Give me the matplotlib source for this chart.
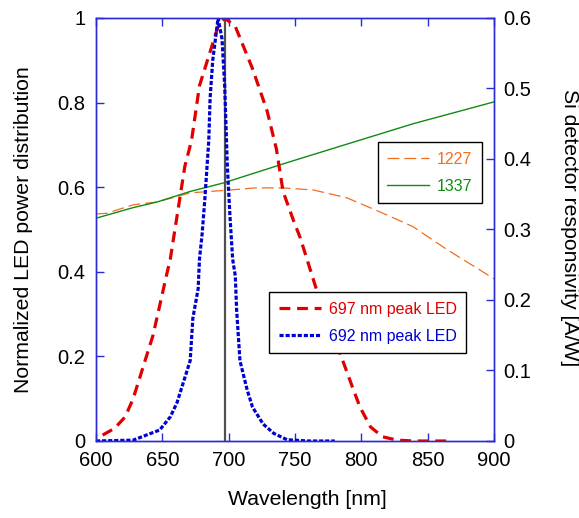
import matplotlib
matplotlib.use("Agg")
import matplotlib.pyplot as plt

plt.rcParams['font.family'] = ['Liberation Sans', 'DejaVu Sans']

# 697 nm peak LED spectrum (normalized)
red_wl = [605, 614, 622, 628, 633, 638, 643, 648, 653, 656, 663, 667, 672, 678,
          686, 692, 697, 705, 718, 729, 736, 741, 749, 754, 759, 766, 776, 786,
          793, 799, 807, 816, 827, 840, 864]
red_val = [0.014, 0.03, 0.057, 0.10, 0.15, 0.20, 0.25, 0.32, 0.39, 0.43, 0.57,
           0.65, 0.71, 0.84, 0.92, 0.98, 1.0, 0.98, 0.88, 0.78, 0.69, 0.59, 0.52,
           0.48, 0.43, 0.36, 0.27, 0.19, 0.13, 0.08, 0.033, 0.01, 0.002, 0.0, 0.0]

# 692 nm peak LED spectrum (normalized)
blue_wl = [600, 628, 638, 648, 656, 661, 666, 671, 673, 677, 678, 680, 682, 685,
           686, 688, 692, 695, 697, 699, 701, 703, 705, 706, 708.5, 714, 718, 726,
           734, 744, 760, 780]
blue_val = [0.0, 0.002, 0.014, 0.026, 0.057, 0.09, 0.14, 0.19, 0.29, 0.36, 0.43,
            0.49, 0.57, 0.71, 0.81, 0.90, 1.0, 0.95, 0.84, 0.65, 0.53, 0.43, 0.39,
            0.31, 0.19, 0.12, 0.08, 0.04, 0.018, 0.003, 0.0, 0.0]

# Si detector responsivity [A/W]
det1227_wl = [600, 608, 628, 646, 671, 701, 720, 741, 764, 789, 814, 839, 865, 889, 900]
det1227_val = [0.322, 0.323, 0.335, 0.339, 0.352, 0.356, 0.359, 0.359, 0.356,
               0.345, 0.325, 0.304, 0.271, 0.243, 0.230]

det1337_wl = [600, 628, 646, 671, 696, 746, 789, 839, 900]
det1337_val = [0.316, 0.331, 0.339, 0.354, 0.366, 0.396, 0.421, 0.450, 0.481]

peak_line_wl = 697

x_ticks = [600, 650, 700, 750, 800, 850, 900]
left_ticks = [0, 0.2, 0.4, 0.6, 0.8, 1]
left_tick_labels = ['0', '0.2', '0.4', '0.6', '0.8', '1']
right_ticks = [0, 0.1, 0.2, 0.3, 0.4, 0.5, 0.6]
right_tick_labels = ['0', '0.1', '0.2', '0.3', '0.4', '0.5', '0.6']

spine_blue = '#2b2bd6'

fig = plt.figure(figsize=(5.79, 5.18), dpi=100)
ax1 = fig.add_axes([96 / 579, 1 - 441 / 518, 398 / 579, 423 / 518])
ax2 = ax1.twinx()
ax1.set_zorder(ax2.get_zorder() + 1)
ax1.patch.set_visible(False)

# detector responsivity curves (right axis)
l1227, = ax2.plot(det1227_wl, det1227_val, color='#f26d1f', lw=0.9,
                  linestyle=(0, (9.5, 4)), label='1227')
l1337, = ax2.plot(det1337_wl, det1337_val, color='#138a13', lw=1.0,
                  label='1337')

# LED spectra (left axis)
ax1.axvline(peak_line_wl, color='#505050', lw=1.6, zorder=1.5)
lred, = ax1.plot(red_wl, red_val, color='#e00000', lw=2.3,
                 linestyle=(0, (3.4, 2.1)), label='697 nm peak LED')
lblue, = ax1.plot(blue_wl, blue_val, color='#0000d0', lw=2.3,
                  linestyle=(0, (1.3, 0.6)), label='692 nm peak LED')

ax1.set_xlim(600, 900)
ax1.set_ylim(0, 1)
ax2.set_ylim(0, 0.6)

ax1.set_xticks(x_ticks)
ax1.set_xticklabels([str(t) for t in x_ticks])
ax1.set_yticks(left_ticks)
ax1.set_yticklabels(left_tick_labels)
ax2.set_yticks(right_ticks)
ax2.set_yticklabels(right_tick_labels)

for ax in (ax1, ax2):
    for sp in ax.spines.values():
        sp.set_color(spine_blue)
        sp.set_linewidth(1.0)
    ax.tick_params(direction='in', length=6, width=1.0, color=spine_blue,
                   labelcolor='black', labelsize=14.5, pad=7.5)
ax1.tick_params(axis='x', top=True, bottom=True)
ax1.tick_params(axis='y', left=True, right=False)
ax2.tick_params(axis='y', right=True, left=False, pad=7)

ax1.set_xlabel('Wavelength [nm]', fontsize=15.3)
ax1.set_ylabel('Normalized LED power distribution', fontsize=15.3)
ax2.set_ylabel('Si detector responsivity [A/W]', fontsize=15.3, rotation=270)
ax1.xaxis.set_label_coords(0.53, -0.116)
ax1.yaxis.set_label_coords(-0.158, 0.5)
ax2.yaxis.set_label_coords(1.213, 0.505)

leg_style = dict(fontsize=11.5, frameon=True, fancybox=False, framealpha=1,
                 edgecolor='black', borderaxespad=0, handlelength=2.6,
                 handletextpad=0.5, labelspacing=0.75, borderpad=0.6)

leg1 = ax2.legend(handles=[l1227, l1337], loc='upper right',
                  bbox_to_anchor=(0.970, 0.707), **leg_style)
for txt, c in zip(leg1.get_texts(), ['#f26d1f', '#138a13']):
    txt.set_color(c)
leg1.get_frame().set_linewidth(1.0)

leg2 = ax1.legend(handles=[lred, lblue], loc='upper right',
                  bbox_to_anchor=(0.930, 0.352), **leg_style)
for txt, c in zip(leg2.get_texts(), ['#e00000', '#0000d0']):
    txt.set_color(c)
leg2.get_frame().set_linewidth(1.0)

fig.savefig('out.png', dpi=100)
